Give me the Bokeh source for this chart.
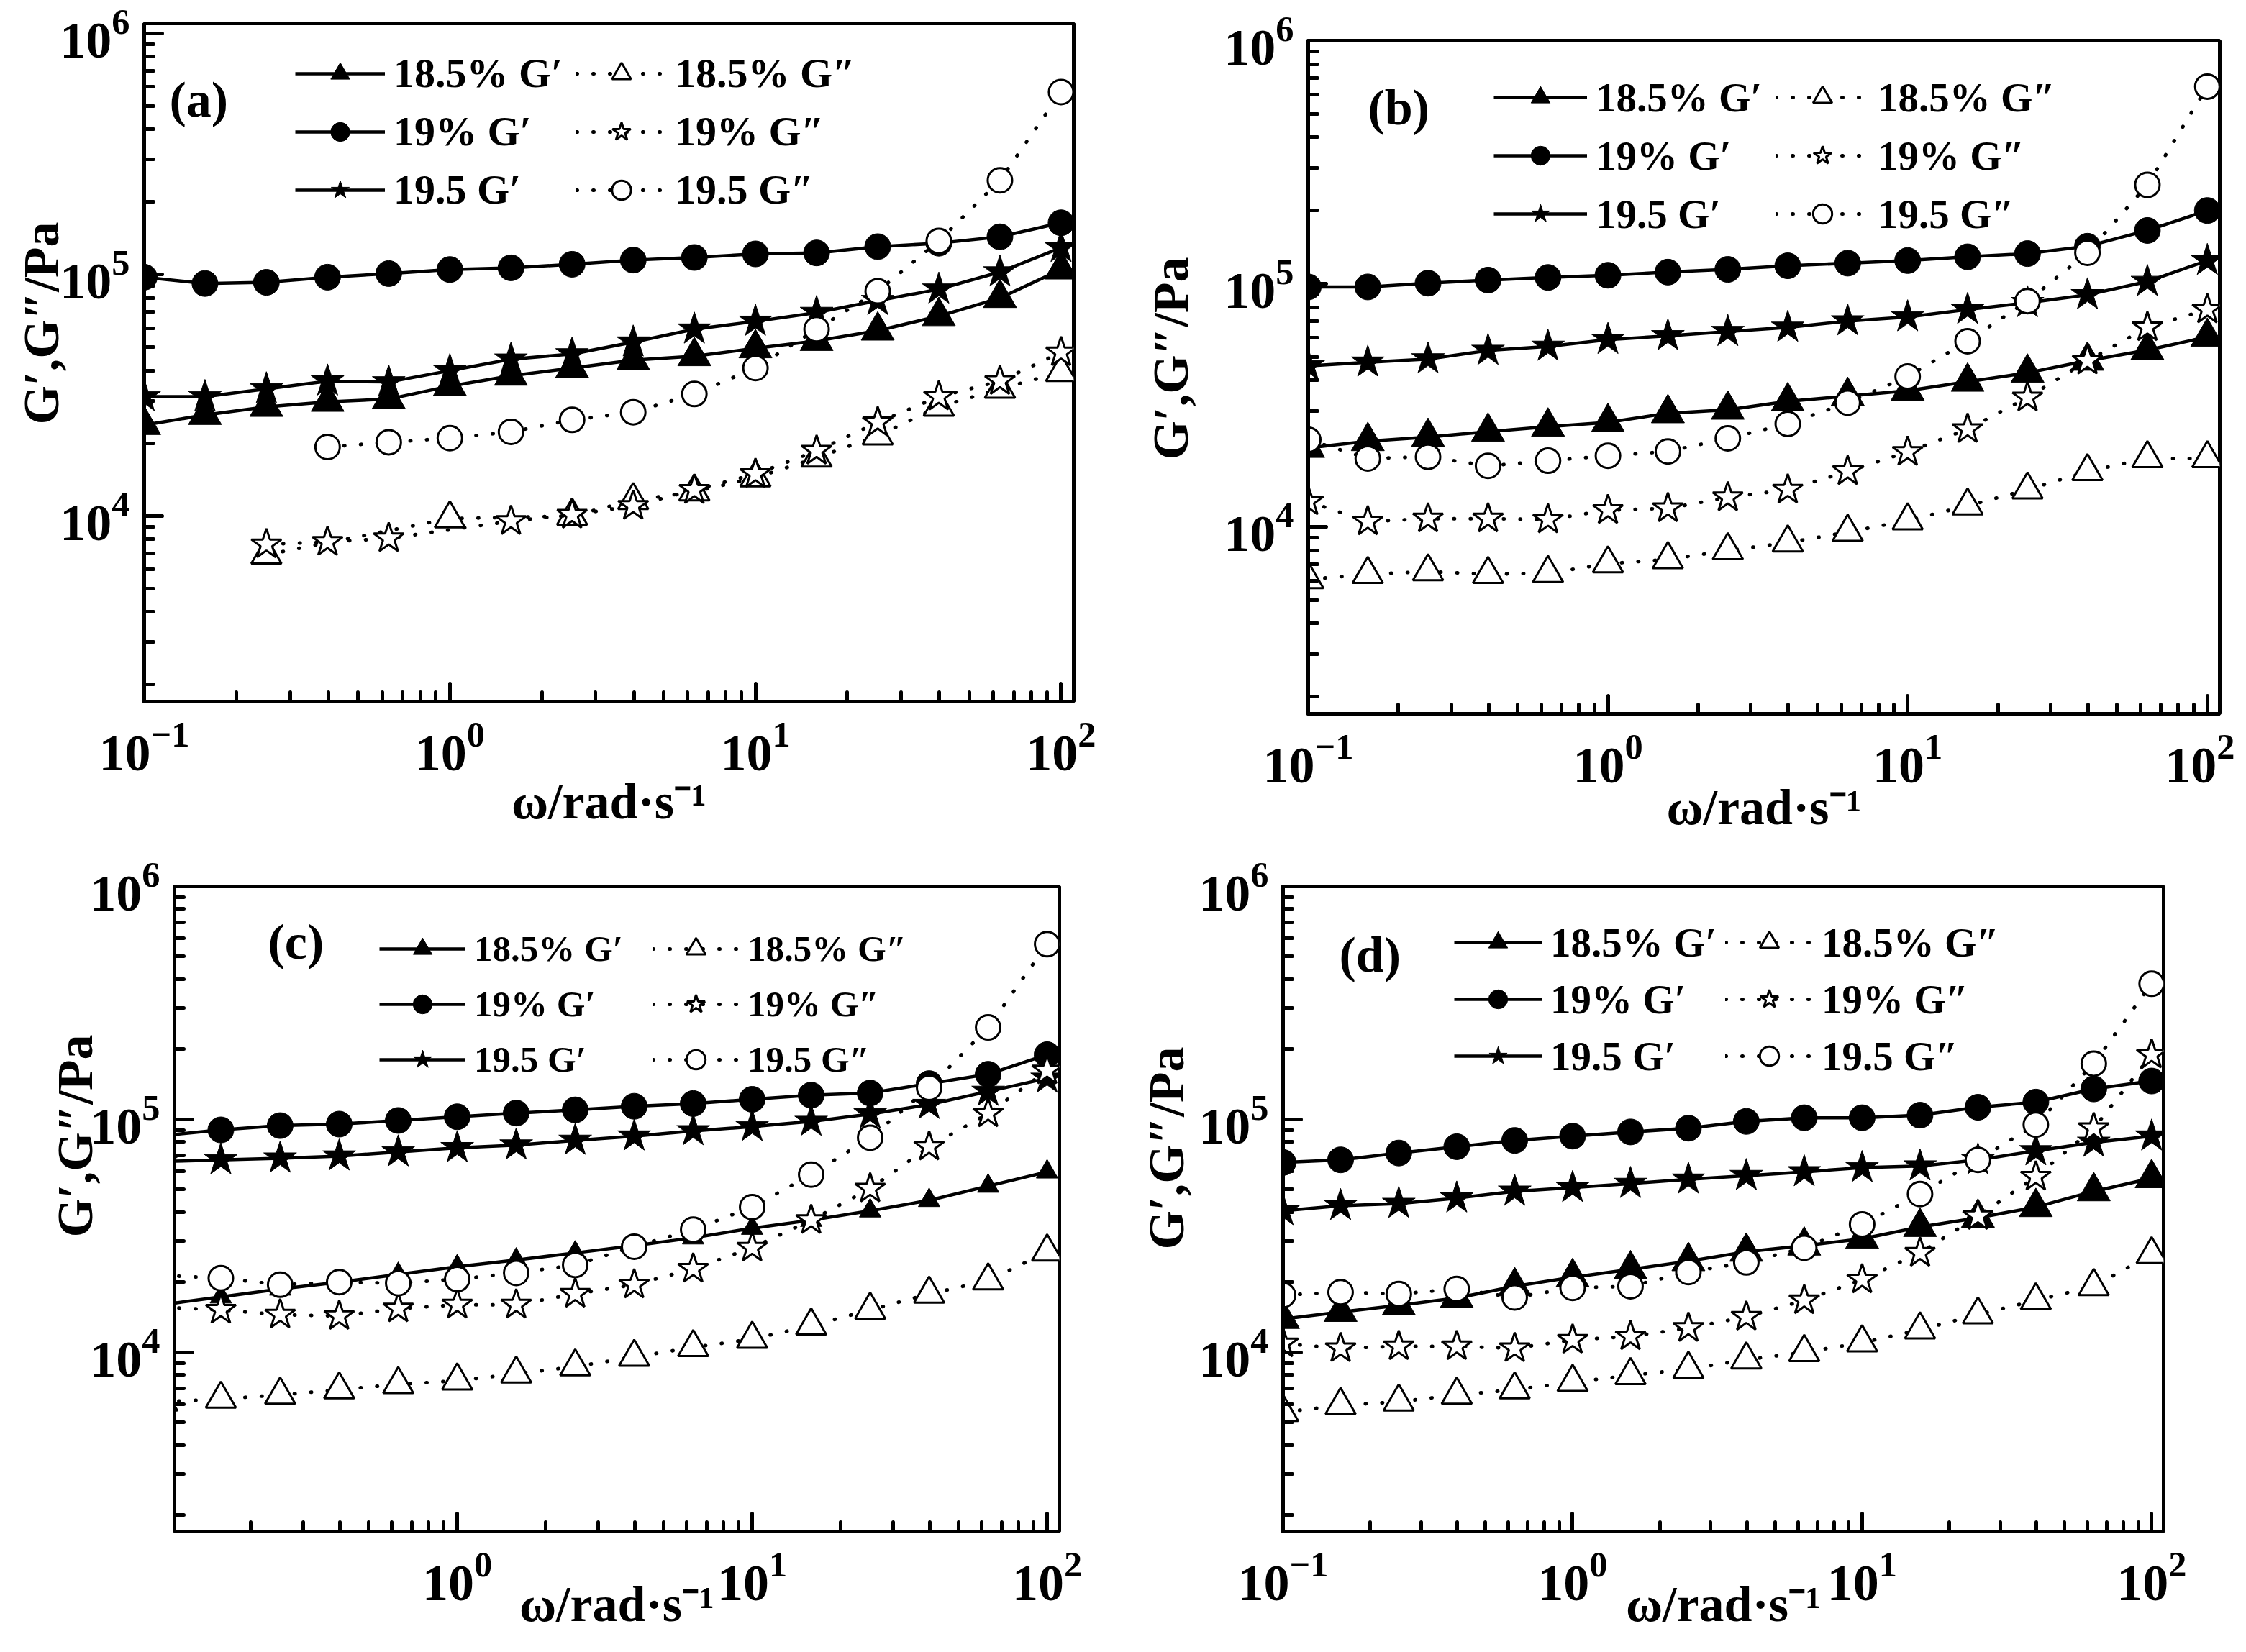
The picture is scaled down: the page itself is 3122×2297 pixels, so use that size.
import math
from bokeh.plotting import figure
from bokeh.models import (Range1d, Legend, LegendItem, Label, LogTicker,
                          LogTickFormatter, ColumnDataSource, Title)
from bokeh.layouts import column, row
from bokeh.embed import file_html
from bokeh.resources import INLINE

FONT = "Liberation Serif"

# angular frequency (rad/s)
OMEGA = [0.1, 0.158, 0.251, 0.398, 0.631, 1.0, 1.585, 2.512, 3.981, 6.31,
         10.0, 15.85, 25.12, 39.81, 63.1, 100.0]

LABELS = ["18.5% G′", "19% G′", "19.5 G′", "18.5% G″", "19% G″", "19.5 G″"]
X_TITLE = "ω/rad·s⁻¹"
Y_TITLE = "G′,G″/Pa"

# ---------------- panel (a) ----------------
A_GP185 = [23800, 26200, 28300, 29700, 30500, 34500, 38100, 41000, 44200, 45900,
           49500, 53100, 58600, 67300, 80000, 105000]
A_GP19 = [97600, 91900, 92900, 97600, 101000, 105000, 106700, 110400, 114900, 117800,
          121900, 123000, 130600, 135000, 143500, 164000]
A_GP195 = [31200, 31200, 33600, 36200, 35900, 40000, 44600, 46900, 52500, 59400,
           64000, 69600, 78000, 87000, 102500, 129400]
A_GPP185_W = [0.251, 1.0, 2.512, 3.981, 6.31, 10.0, 15.85, 25.12, 39.81, 63.1, 100.0]
A_GPP185 = [6900, 9750, 10000, 11600, 12600, 14400, 17400, 21500, 28300, 33600, 39400]
A_GPP19_W = [0.251, 0.398, 0.631, 1.585, 2.512, 3.981, 6.31, 10.0, 15.85, 25.12,
             39.81, 63.1, 100.0]
A_GPP19 = [7620, 7800, 8070, 9510, 10100, 11000, 12800, 14900, 18600, 24400,
           31200, 36200, 47600]
A_GPP195_W = [0.398, 0.631, 1.0, 1.585, 2.512, 3.981, 6.31, 10.0, 15.85, 25.12,
              39.81, 63.1, 100.0]
A_GPP195 = [19300, 20200, 21000, 22300, 25000, 26900, 32000, 41000, 59400, 85300,
            138000, 246000, 571000]

# ---------------- panel (b) ----------------
B_GP185 = [21100, 22500, 23400, 24600, 25800, 26900, 29300, 30300, 32800, 34500,
           36300, 39500, 43000, 48200, 53300, 60400]
B_GP19 = [97000, 97000, 100500, 103500, 106100, 108300, 111600, 114500, 118500, 121500,
          124500, 129000, 133000, 142600, 165600, 200000]
B_GP195 = [45900, 47500, 49000, 53100, 55200, 58900, 61000, 63500, 66100, 70200,
           73000, 78300, 83500, 90000, 102000, 124500]
B_GPP185 = [6070, 6380, 6540, 6380, 6440, 7050, 7340, 7990, 8600, 9510,
            10600, 12200, 14200, 16900, 19100, 19100]
B_GPP19 = [12700, 10500, 10800, 10800, 10700, 11700, 11900, 13200, 14200, 16900,
           20300, 25200, 34000, 48200, 66100, 78300]
B_GPP195 = [22800, 19100, 19400, 17800, 18700, 19600, 20400, 23100, 26500, 32400,
            41500, 58000, 84800, 134000, 255000, 647000]

# ---------------- panel (c) ----------------
C_GP185 = [16000, 17300, 18700, 20000, 21600, 23300, 24900, 26700, 28700, 31000,
           34100, 36900, 40500, 44900, 51700, 59500]
C_GP19 = [85100, 90100, 94000, 95400, 98900, 102600, 106400, 109800, 113800, 116900,
          121900, 127000, 129700, 142400, 156200, 189500]
C_GP195 = [65900, 67000, 68100, 69500, 72400, 75500, 77500, 81200, 84700, 89200,
           93000, 97900, 105400, 115700, 131700, 150000]
C_GPP185 = [6130, 6300, 6560, 6910, 7280, 7550, 8080, 8680, 9540, 10500,
            11400, 13000, 15200, 17800, 20300, 27000]
C_GPP19 = [15600, 15200, 14500, 14300, 15400, 16000, 16000, 17800, 19500, 22800,
           28100, 36900, 50400, 76300, 105900, 162000]
C_GPP195 = [21400, 20800, 19500, 20000, 19800, 20600, 21900, 23700, 28400, 33600,
            42000, 57900, 83400, 136600, 248000, 565000]

# ---------------- panel (d) ----------------
D_GP185 = [13900, 14900, 15900, 17100, 19200, 21000, 22700, 24600, 27000, 28700,
           30700, 34500, 37800, 42000, 49100, 55900]
D_GP19 = [65300, 67000, 71700, 76300, 81200, 84700, 88300, 91600, 98000, 101600,
          101600, 104200, 112700, 118600, 135100, 146100]
D_GP195 = [40500, 42600, 43500, 45900, 49100, 50900, 53000, 55300, 57300, 59500,
           62000, 63000, 67000, 73200, 79600, 84700]
D_GPP185 = [5530, 5920, 6130, 6560, 6910, 7440, 7960, 8470, 9290, 10000,
            11000, 12500, 14500, 16700, 19200, 26300]
D_GPP19 = [10900, 10400, 10600, 10600, 10400, 11300, 11700, 12700, 14200, 16700,
           20500, 26700, 38400, 56700, 91500, 189500]
D_GPP195 = [17600, 18100, 17800, 18700, 17200, 18900, 19200, 22100, 24300, 28100,
            35400, 47800, 67000, 94900, 173500, 382000]


def style_axis(ax, size, standoff):
    ax.axis_line_width = 5
    ax.axis_line_color = "black"
    ax.major_tick_in = 25
    ax.major_tick_out = 0
    ax.minor_tick_in = 13
    ax.minor_tick_out = 0
    ax.major_tick_line_width = 5
    ax.minor_tick_line_width = 5
    ax.major_tick_line_cap = "round"
    ax.minor_tick_line_cap = "round"
    ax.major_label_text_font = FONT
    ax.major_label_text_font_style = "bold"
    ax.major_label_text_font_size = size
    ax.major_label_text_color = "black"
    ax.major_label_standoff = standoff
    ax.ticker = LogTicker(mantissas=[1], num_minor_ticks=10)
    ax.formatter = LogTickFormatter()


def make_panel(cfg, series):
    w, h = cfg["size"]
    bl, br, bt, bb = cfg["borders"]
    p = figure(width=w, height=h, x_axis_type="log", y_axis_type="log",
               x_range=Range1d(*cfg["xr"]), y_range=Range1d(*cfg["yr"]),
               output_backend="svg", toolbar_location=None,
               min_border_left=bl, min_border_right=br,
               min_border_top=bt, min_border_bottom=bb)
    p.grid.visible = False
    p.outline_line_color = "black"
    p.outline_line_width = 5
    p.background_fill_color = "white"
    p.border_fill_color = "white"
    style_axis(p.xaxis[0], "72px", 28)
    style_axis(p.yaxis[0], "72px", 20)

    # x-axis title
    xa = p.xaxis[0]
    xa.axis_label = X_TITLE
    xa.axis_label_text_font = FONT
    xa.axis_label_text_font_style = "bold"
    xa.axis_label_text_font_size = "70px"
    xa.axis_label_text_color = "black"
    xa.axis_label_standoff = cfg["xlab_standoff"]

    # y-axis title as a side title (allows shifting along the axis)
    p.add_layout(Title(text=Y_TITLE, align="left", offset=cfg["ylab_offset"],
                       standoff=cfg["ylab_standoff"], text_font=FONT,
                       text_font_style="bold", text_font_size="70px",
                       text_color="black"), "left")

    fh = h - bt - bb

    specs = [
        ("triangle", cfg["tri_size"], True),
        ("circle", 36, True),
        ("star", 48, True),
        ("triangle", 42, False),
        ("star", 44, False),
        ("circle", 34, False),
    ]
    rends = []
    for (xs, ys), (mk, sz, filled), lab in zip(series, specs, LABELS):
        src = ColumnDataSource(dict(x=xs, y=ys))
        if filled:
            ln = p.line("x", "y", source=src, line_color="black", line_width=4.5)
        else:
            ln = p.line("x", "y", source=src, line_color="black", line_width=5,
                        line_dash="1 22", line_cap="round")
        sc = p.scatter("x", "y", source=src, marker=mk, size=sz,
                       fill_color="black" if filled else "white",
                       line_color="black", line_width=1 if filled else 3)
        rends.append((lab, [ln, sc]))

    row_h = 66
    spacing = cfg["pitch"] - row_h
    leg_h = 3 * row_h + 2 * spacing
    top = cfg["c1"] - row_h / 2
    vy = fh - top - leg_h
    for k, xoff in enumerate(cfg["cols"]):
        items = [LegendItem(label=lab, renderers=r) for lab, r in rends[3 * k:3 * k + 3]]
        leg = Legend(items=items, location=(xoff, vy), orientation="vertical",
                     glyph_width=cfg["gw"], glyph_height=row_h, label_height=row_h,
                     spacing=spacing, label_standoff=12, padding=0, margin=0,
                     border_line_color=None, background_fill_alpha=0,
                     label_text_font=FONT, label_text_font_style="bold",
                     label_text_font_size=cfg["lfont"], label_text_color="black")
        p.add_layout(leg)

    tx, ty = cfg["tag"]
    p.add_layout(Label(x=tx, y=fh - ty, x_units="screen", y_units="screen",
                       text=cfg["name"], text_font=FONT, text_font_style="bold",
                       text_font_size="70px", text_align="left",
                       text_baseline="middle", text_color="black"))
    return p


cfg_a = dict(name="(a)", size=(1553, 1175), borders=(200, 61, 32, 200), xr=(0.1, 110),
             yr=(1700, 1.1e6),
             tri_size=46, pitch=80, c1=72, cols=(210, 601), gw=125, lfont="58px",
             tag=(35, 106), ylab_offset=385, ylab_standoff=-30, xlab_standoff=2)
cfg_b = dict(name="(b)", size=(1553, 1175), borders=(262, 21, 56, 183), xr=(0.1, 110),
             yr=(1700, 1.0e6),
             tri_size=46, pitch=81, c1=79, cols=(258, 650), gw=130, lfont="57px",
             tag=(83, 93), ylab_offset=353, ylab_standoff=66, xlab_standoff=-7)
cfg_c = dict(name="(c)", size=(1553, 1106), borders=(242, 81, 57, 152), xr=(0.11, 110),
             yr=(1700, 1.0e6),
             tri_size=30, pitch=77, c1=87, cols=(285, 665), gw=120, lfont="51px",
             tag=(130, 77), ylab_offset=409, ylab_standoff=-40, xlab_standoff=-36)
cfg_d = dict(name="(d)", size=(1553, 1106), borders=(230, 99, 57, 152), xr=(0.1, 110),
             yr=(1700, 1.0e6),
             tri_size=46, pitch=79, c1=78, cols=(238, 615), gw=122, lfont="57px",
             tag=(78, 95), ylab_offset=392, ylab_standoff=8, xlab_standoff=-36)

pa = make_panel(cfg_a, [(OMEGA, A_GP185), (OMEGA, A_GP19), (OMEGA, A_GP195),
                        (A_GPP185_W, A_GPP185), (A_GPP19_W, A_GPP19),
                        (A_GPP195_W, A_GPP195)])
pb = make_panel(cfg_b, [(OMEGA, B_GP185), (OMEGA, B_GP19), (OMEGA, B_GP195),
                        (OMEGA, B_GPP185), (OMEGA, B_GPP19), (OMEGA, B_GPP195)])
pc = make_panel(cfg_c, [(OMEGA, C_GP185), (OMEGA, C_GP19), (OMEGA, C_GP195),
                        (OMEGA, C_GPP185), (OMEGA, C_GPP19), (OMEGA, C_GPP195)])
pd = make_panel(cfg_d, [(OMEGA, D_GP185), (OMEGA, D_GP19), (OMEGA, D_GP195),
                        (OMEGA, D_GPP185), (OMEGA, D_GPP19), (OMEGA, D_GPP195)])

layout = column(row(column(pa), column(pb)), row(column(pc), column(pd)))
open("out.html", "w").write(file_html(layout, INLINE))
